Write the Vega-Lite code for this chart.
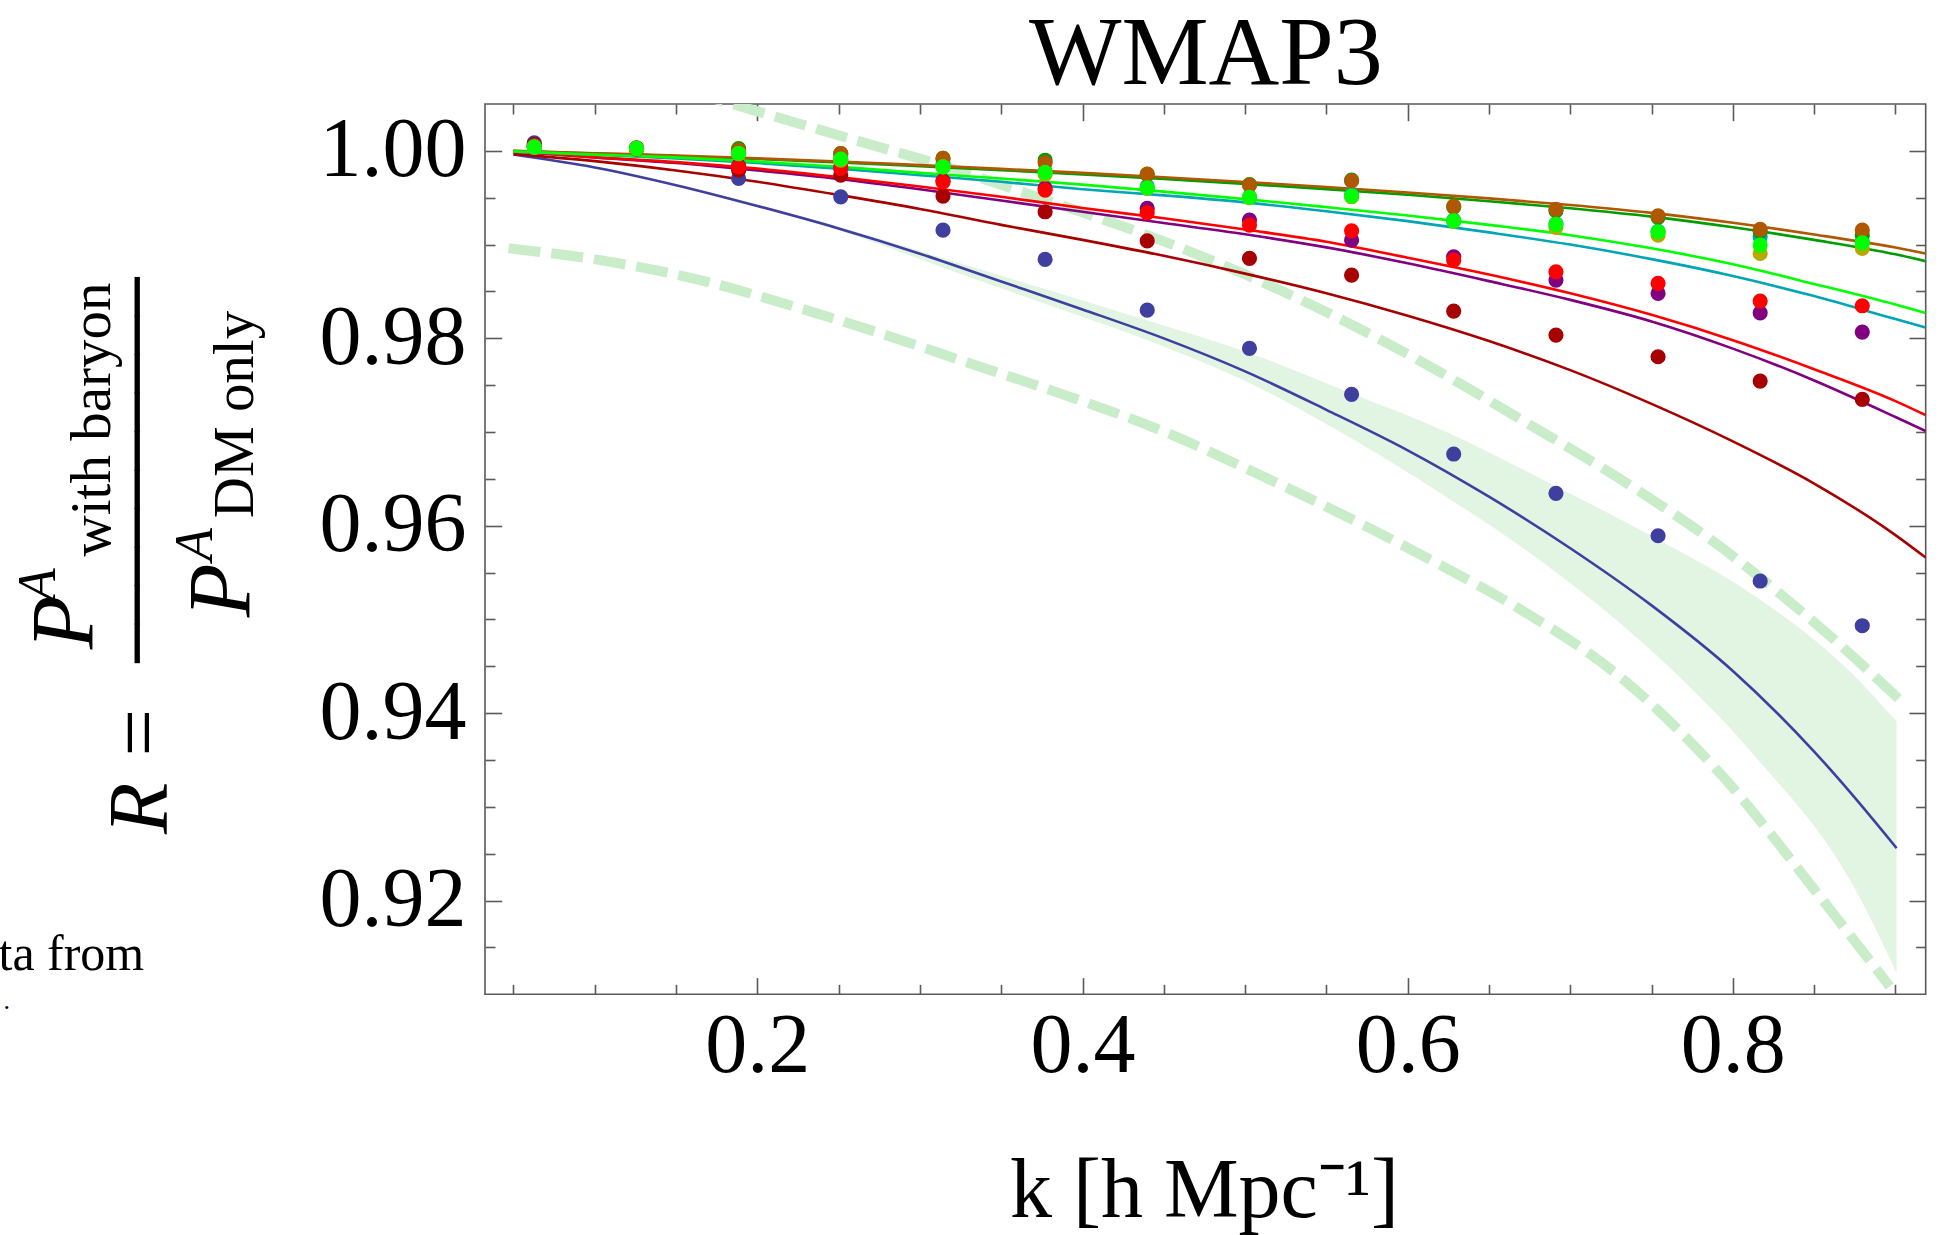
{
  "$schema": "https://vega.github.io/schema/vega-lite/v6.json",
  "autosize": {"type": "none"},
  "width": 1440.7,
  "height": 890.3,
  "padding": {"left": 485, "top": 104, "right": 24, "bottom": 241},
  "background": "#ffffff",
  "config": {
    "view": {"stroke": "#5a5a5a", "strokeWidth": 1.6},
    "axis": {"grid": false, "domain": false, "tickColor": "#5a5a5a", "tickWidth": 1.6, "labelFont": "Liberation Serif", "labelFontSize": 84, "labelColor": "#000000", "titleFont": "Liberation Serif", "titleFontWeight": "normal", "titleColor": "#000000", "labelLimit": 600, "titleLimit": 3000, "labelOverlap": false, "labelFlush": false}
  },
  "datasets": {
    "band": [
      {"k": 0.05, "lo": 0.9996, "hi": 0.9996},
      {"k": 0.15, "lo": 0.9963, "hi": 0.9964},
      {"k": 0.25, "lo": 0.9915, "hi": 0.9919},
      {"k": 0.3247, "lo": 0.9869, "hi": 0.988},
      {"k": 0.38, "lo": 0.9835, "hi": 0.9851},
      {"k": 0.44, "lo": 0.9798, "hi": 0.9819},
      {"k": 0.503, "lo": 0.9752, "hi": 0.9784},
      {"k": 0.5655, "lo": 0.9693, "hi": 0.9741},
      {"k": 0.62, "lo": 0.9635, "hi": 0.9703},
      {"k": 0.69, "lo": 0.9552, "hi": 0.9643},
      {"k": 0.751, "lo": 0.9465, "hi": 0.9588},
      {"k": 0.8126, "lo": 0.9356, "hi": 0.9526},
      {"k": 0.874, "lo": 0.9216, "hi": 0.9441},
      {"k": 0.9007, "lo": 0.9123, "hi": 0.9391}
    ],
    "dashU": [
      {"k": 0.16, "R": 1.0062}, {"k": 0.1766, "R": 1.0054}, {"k": 0.2237, "R": 1.003}, {"k": 0.2649, "R": 1.0009},
      {"k": 0.309, "R": 0.9987}, {"k": 0.3531, "R": 0.9962}, {"k": 0.3972, "R": 0.9936}, {"k": 0.4414, "R": 0.9909},
      {"k": 0.4989, "R": 0.9869}, {"k": 0.5604, "R": 0.9819}, {"k": 0.6199, "R": 0.9764}, {"k": 0.669, "R": 0.9714},
      {"k": 0.7305, "R": 0.965}, {"k": 0.792, "R": 0.9578}, {"k": 0.83, "R": 0.9526}, {"k": 0.86, "R": 0.9482},
      {"k": 0.9028, "R": 0.9414}
    ],
    "dashL": [
      {"k": 0.047, "R": 0.9896}, {"k": 0.1033, "R": 0.98834}, {"k": 0.1648, "R": 0.98621}, {"k": 0.2263, "R": 0.9832},
      {"k": 0.2877, "R": 0.97985}, {"k": 0.3247, "R": 0.97767}, {"k": 0.3862, "R": 0.97412}, {"k": 0.4477, "R": 0.97021},
      {"k": 0.5092, "R": 0.96541}, {"k": 0.5707, "R": 0.96026}, {"k": 0.6136, "R": 0.9564}, {"k": 0.669, "R": 0.9511},
      {"k": 0.7305, "R": 0.94389}, {"k": 0.792, "R": 0.93359}, {"k": 0.8535, "R": 0.92043}, {"k": 0.8965, "R": 0.91083}
    ],
    "linesA": [
      {"series": "blue", "k": 0.05, "R": 0.99961}, {"series": "blue", "k": 0.1, "R": 0.99823}, {"series": "blue", "k": 0.15, "R": 0.99634}, {"series": "blue", "k": 0.2, "R": 0.99412}, {"series": "blue", "k": 0.25, "R": 0.99172}, {"series": "blue", "k": 0.3, "R": 0.98903}, {"series": "blue", "k": 0.35, "R": 0.98606}, {"series": "blue", "k": 0.4, "R": 0.98308}, {"series": "blue", "k": 0.45, "R": 0.97999}, {"series": "blue", "k": 0.5, "R": 0.97647}, {"series": "blue", "k": 0.55, "R": 0.97237}, {"series": "blue", "k": 0.6, "R": 0.96805}, {"series": "blue", "k": 0.65, "R": 0.9631}, {"series": "blue", "k": 0.7, "R": 0.9576}, {"series": "blue", "k": 0.75, "R": 0.9515}, {"series": "blue", "k": 0.8, "R": 0.9445}, {"series": "blue", "k": 0.85, "R": 0.9359}, {"series": "blue", "k": 0.9, "R": 0.92574}, {"series": "blue", "k": 0.9007, "R": 0.92559},
      {"series": "darkred", "k": 0.05, "R": 0.99965}, {"series": "darkred", "k": 0.1, "R": 0.9989}, {"series": "darkred", "k": 0.15, "R": 0.9979}, {"series": "darkred", "k": 0.2, "R": 0.9967}, {"series": "darkred", "k": 0.25, "R": 0.9953}, {"series": "darkred", "k": 0.3, "R": 0.9938}, {"series": "darkred", "k": 0.35, "R": 0.9921}, {"series": "darkred", "k": 0.4, "R": 0.9905}, {"series": "darkred", "k": 0.45, "R": 0.9888}, {"series": "darkred", "k": 0.5, "R": 0.9869}, {"series": "darkred", "k": 0.55, "R": 0.9848}, {"series": "darkred", "k": 0.6, "R": 0.9824}, {"series": "darkred", "k": 0.65, "R": 0.9797}, {"series": "darkred", "k": 0.7, "R": 0.9766}, {"series": "darkred", "k": 0.75, "R": 0.973}, {"series": "darkred", "k": 0.8, "R": 0.969}, {"series": "darkred", "k": 0.85, "R": 0.9645}, {"series": "darkred", "k": 0.9, "R": 0.959}, {"series": "darkred", "k": 0.9186, "R": 0.9566},
      {"series": "purple", "k": 0.05, "R": 0.99995}, {"series": "purple", "k": 0.1, "R": 0.9993}, {"series": "purple", "k": 0.15, "R": 0.9987}, {"series": "purple", "k": 0.2, "R": 0.9979}, {"series": "purple", "k": 0.25, "R": 0.997}, {"series": "purple", "k": 0.3, "R": 0.9959}, {"series": "purple", "k": 0.35, "R": 0.9947}, {"series": "purple", "k": 0.4, "R": 0.9935}, {"series": "purple", "k": 0.45, "R": 0.9923}, {"series": "purple", "k": 0.5, "R": 0.9911}, {"series": "purple", "k": 0.55, "R": 0.9897}, {"series": "purple", "k": 0.6, "R": 0.988}, {"series": "purple", "k": 0.65, "R": 0.9861}, {"series": "purple", "k": 0.7, "R": 0.9841}, {"series": "purple", "k": 0.75, "R": 0.9818}, {"series": "purple", "k": 0.8, "R": 0.9789}, {"series": "purple", "k": 0.85, "R": 0.9755}, {"series": "purple", "k": 0.9, "R": 0.9716}, {"series": "purple", "k": 0.9186, "R": 0.9701},
      {"series": "red", "k": 0.05, "R": 0.99995}, {"series": "red", "k": 0.1, "R": 0.9993}, {"series": "red", "k": 0.15, "R": 0.9988}, {"series": "red", "k": 0.2, "R": 0.9981}, {"series": "red", "k": 0.25, "R": 0.9972}, {"series": "red", "k": 0.3, "R": 0.9962}, {"series": "red", "k": 0.35, "R": 0.9951}, {"series": "red", "k": 0.4, "R": 0.9939}, {"series": "red", "k": 0.45, "R": 0.9928}, {"series": "red", "k": 0.5, "R": 0.9916}, {"series": "red", "k": 0.55, "R": 0.9903}, {"series": "red", "k": 0.6, "R": 0.9886}, {"series": "red", "k": 0.65, "R": 0.9868}, {"series": "red", "k": 0.7, "R": 0.9848}, {"series": "red", "k": 0.75, "R": 0.9825}, {"series": "red", "k": 0.8, "R": 0.9798}, {"series": "red", "k": 0.85, "R": 0.9767}, {"series": "red", "k": 0.9, "R": 0.9733}, {"series": "red", "k": 0.9186, "R": 0.9718}
    ],
    "linesB": [
      {"series": "teal", "k": 0.05, "R": 0.99995}, {"series": "teal", "k": 0.1, "R": 0.9996}, {"series": "teal", "k": 0.15, "R": 0.9992}, {"series": "teal", "k": 0.2, "R": 0.9987}, {"series": "teal", "k": 0.25, "R": 0.9981}, {"series": "teal", "k": 0.3, "R": 0.9974}, {"series": "teal", "k": 0.35, "R": 0.9967}, {"series": "teal", "k": 0.4, "R": 0.9959}, {"series": "teal", "k": 0.45, "R": 0.99525}, {"series": "teal", "k": 0.5, "R": 0.9945}, {"series": "teal", "k": 0.55, "R": 0.99355}, {"series": "teal", "k": 0.6, "R": 0.9925}, {"series": "teal", "k": 0.65, "R": 0.9913}, {"series": "teal", "k": 0.7, "R": 0.99}, {"series": "teal", "k": 0.75, "R": 0.98845}, {"series": "teal", "k": 0.8, "R": 0.98665}, {"series": "teal", "k": 0.85, "R": 0.9845}, {"series": "teal", "k": 0.9, "R": 0.98205}, {"series": "teal", "k": 0.9186, "R": 0.98116},
      {"series": "darkgreen", "k": 0.05, "R": 1.0}, {"series": "darkgreen", "k": 0.1, "R": 0.99972}, {"series": "darkgreen", "k": 0.15, "R": 0.99945}, {"series": "darkgreen", "k": 0.2, "R": 0.99913}, {"series": "darkgreen", "k": 0.25, "R": 0.99877}, {"series": "darkgreen", "k": 0.3, "R": 0.99836}, {"series": "darkgreen", "k": 0.35, "R": 0.99794}, {"series": "darkgreen", "k": 0.4, "R": 0.99749}, {"series": "darkgreen", "k": 0.45, "R": 0.997}, {"series": "darkgreen", "k": 0.5, "R": 0.99648}, {"series": "darkgreen", "k": 0.55, "R": 0.99592}, {"series": "darkgreen", "k": 0.6, "R": 0.99531}, {"series": "darkgreen", "k": 0.65, "R": 0.99463}, {"series": "darkgreen", "k": 0.7, "R": 0.99387}, {"series": "darkgreen", "k": 0.75, "R": 0.99298}, {"series": "darkgreen", "k": 0.8, "R": 0.99184}, {"series": "darkgreen", "k": 0.85, "R": 0.9905}, {"series": "darkgreen", "k": 0.9, "R": 0.98896}, {"series": "darkgreen", "k": 0.9186, "R": 0.98823},
      {"series": "brown", "k": 0.05, "R": 1.0}, {"series": "brown", "k": 0.1, "R": 0.99975}, {"series": "brown", "k": 0.15, "R": 0.9995}, {"series": "brown", "k": 0.2, "R": 0.9992}, {"series": "brown", "k": 0.25, "R": 0.99887}, {"series": "brown", "k": 0.3, "R": 0.99848}, {"series": "brown", "k": 0.35, "R": 0.99808}, {"series": "brown", "k": 0.4, "R": 0.99765}, {"series": "brown", "k": 0.45, "R": 0.99718}, {"series": "brown", "k": 0.5, "R": 0.99668}, {"series": "brown", "k": 0.55, "R": 0.99614}, {"series": "brown", "k": 0.6, "R": 0.99556}, {"series": "brown", "k": 0.65, "R": 0.99493}, {"series": "brown", "k": 0.7, "R": 0.99422}, {"series": "brown", "k": 0.75, "R": 0.99338}, {"series": "brown", "k": 0.8, "R": 0.99232}, {"series": "brown", "k": 0.85, "R": 0.99108}, {"series": "brown", "k": 0.9, "R": 0.98968}, {"series": "brown", "k": 0.9186, "R": 0.98905},
      {"series": "green", "k": 0.05, "R": 0.99995}, {"series": "green", "k": 0.1, "R": 0.9996}, {"series": "green", "k": 0.15, "R": 0.9993}, {"series": "green", "k": 0.2, "R": 0.99885}, {"series": "green", "k": 0.25, "R": 0.9983}, {"series": "green", "k": 0.3, "R": 0.99765}, {"series": "green", "k": 0.35, "R": 0.99705}, {"series": "green", "k": 0.4, "R": 0.9964}, {"series": "green", "k": 0.45, "R": 0.99565}, {"series": "green", "k": 0.5, "R": 0.99485}, {"series": "green", "k": 0.55, "R": 0.994}, {"series": "green", "k": 0.6, "R": 0.9931}, {"series": "green", "k": 0.65, "R": 0.9921}, {"series": "green", "k": 0.7, "R": 0.991}, {"series": "green", "k": 0.75, "R": 0.9896}, {"series": "green", "k": 0.8, "R": 0.9879}, {"series": "green", "k": 0.85, "R": 0.9858}, {"series": "green", "k": 0.9, "R": 0.9836}, {"series": "green", "k": 0.9186, "R": 0.9827}
    ],
    "pointsA": [
      {"series": "blue", "k": 0.0628, "R": 1.00085}, {"series": "blue", "k": 0.1257, "R": 1.0003}, {"series": "blue", "k": 0.1885, "R": 0.99706}, {"series": "blue", "k": 0.2513, "R": 0.99509}, {"series": "blue", "k": 0.3142, "R": 0.99154}, {"series": "blue", "k": 0.377, "R": 0.98842}, {"series": "blue", "k": 0.4398, "R": 0.983}, {"series": "blue", "k": 0.5027, "R": 0.97892}, {"series": "blue", "k": 0.5655, "R": 0.97402}, {"series": "blue", "k": 0.6283, "R": 0.96765}, {"series": "blue", "k": 0.6912, "R": 0.96346}, {"series": "blue", "k": 0.754, "R": 0.95893}, {"series": "blue", "k": 0.8168, "R": 0.9541}, {"series": "blue", "k": 0.8796, "R": 0.94933},
      {"series": "darkred", "k": 0.0628, "R": 1.0007}, {"series": "darkred", "k": 0.1257, "R": 1.0002}, {"series": "darkred", "k": 0.1885, "R": 0.99794}, {"series": "darkred", "k": 0.2513, "R": 0.99741}, {"series": "darkred", "k": 0.3142, "R": 0.99517}, {"series": "darkred", "k": 0.377, "R": 0.9935}, {"series": "darkred", "k": 0.4398, "R": 0.9904}, {"series": "darkred", "k": 0.5027, "R": 0.98852}, {"series": "darkred", "k": 0.5655, "R": 0.98674}, {"series": "darkred", "k": 0.6283, "R": 0.9829}, {"series": "darkred", "k": 0.6912, "R": 0.98034}, {"series": "darkred", "k": 0.754, "R": 0.97803}, {"series": "darkred", "k": 0.8168, "R": 0.97543}, {"series": "darkred", "k": 0.8796, "R": 0.97348},
      {"series": "purple", "k": 0.0628, "R": 1.0006}, {"series": "purple", "k": 0.1257, "R": 1.0002}, {"series": "purple", "k": 0.1885, "R": 0.9984}, {"series": "purple", "k": 0.2513, "R": 0.9982}, {"series": "purple", "k": 0.3142, "R": 0.9968}, {"series": "purple", "k": 0.377, "R": 0.996}, {"series": "purple", "k": 0.4398, "R": 0.99386}, {"series": "purple", "k": 0.5027, "R": 0.99261}, {"series": "purple", "k": 0.5655, "R": 0.99047}, {"series": "purple", "k": 0.6283, "R": 0.98869}, {"series": "purple", "k": 0.6912, "R": 0.98621}, {"series": "purple", "k": 0.754, "R": 0.98479}, {"series": "purple", "k": 0.8168, "R": 0.98272}, {"series": "purple", "k": 0.8796, "R": 0.98066},
      {"series": "red", "k": 0.0628, "R": 1.0005}, {"series": "red", "k": 0.1257, "R": 1.0002}, {"series": "red", "k": 0.1885, "R": 0.99829}, {"series": "red", "k": 0.2513, "R": 0.99812}, {"series": "red", "k": 0.3142, "R": 0.99669}, {"series": "red", "k": 0.377, "R": 0.99581}, {"series": "red", "k": 0.4398, "R": 0.99339}, {"series": "red", "k": 0.5027, "R": 0.99207}, {"series": "red", "k": 0.5655, "R": 0.99147}, {"series": "red", "k": 0.6283, "R": 0.98834}, {"series": "red", "k": 0.6912, "R": 0.98709}, {"series": "red", "k": 0.754, "R": 0.98586}, {"series": "red", "k": 0.8168, "R": 0.98397}, {"series": "red", "k": 0.8796, "R": 0.98347}
    ],
    "pointsB": [
      {"series": "teal", "k": 0.0628, "R": 1.0004}, {"series": "teal", "k": 0.1257, "R": 1.0003}, {"series": "teal", "k": 0.1885, "R": 0.9997}, {"series": "teal", "k": 0.2513, "R": 0.9991}, {"series": "teal", "k": 0.3142, "R": 0.99866}, {"series": "teal", "k": 0.377, "R": 0.9978}, {"series": "teal", "k": 0.4398, "R": 0.9962}, {"series": "teal", "k": 0.5027, "R": 0.9951}, {"series": "teal", "k": 0.5655, "R": 0.9953}, {"series": "teal", "k": 0.6283, "R": 0.9926}, {"series": "teal", "k": 0.6912, "R": 0.9922}, {"series": "teal", "k": 0.754, "R": 0.9914}, {"series": "teal", "k": 0.8168, "R": 0.99083}, {"series": "teal", "k": 0.8796, "R": 0.9903},
      {"series": "darkgreen", "k": 0.0628, "R": 1.0005}, {"series": "darkgreen", "k": 0.1257, "R": 1.0003}, {"series": "darkgreen", "k": 0.1885, "R": 1.00025}, {"series": "darkgreen", "k": 0.2513, "R": 0.9997}, {"series": "darkgreen", "k": 0.3142, "R": 0.9992}, {"series": "darkgreen", "k": 0.377, "R": 0.999}, {"series": "darkgreen", "k": 0.4398, "R": 0.9975}, {"series": "darkgreen", "k": 0.5027, "R": 0.9964}, {"series": "darkgreen", "k": 0.5655, "R": 0.99688}, {"series": "darkgreen", "k": 0.6283, "R": 0.994}, {"series": "darkgreen", "k": 0.6912, "R": 0.9936}, {"series": "darkgreen", "k": 0.754, "R": 0.9929}, {"series": "darkgreen", "k": 0.8168, "R": 0.9914}, {"series": "darkgreen", "k": 0.8796, "R": 0.991},
      {"series": "brown", "k": 0.0628, "R": 1.0005}, {"series": "brown", "k": 0.1257, "R": 1.0003}, {"series": "brown", "k": 0.1885, "R": 1.00007}, {"series": "brown", "k": 0.2513, "R": 0.99972}, {"series": "brown", "k": 0.3142, "R": 0.99919}, {"series": "brown", "k": 0.377, "R": 0.99872}, {"series": "brown", "k": 0.4398, "R": 0.99751}, {"series": "brown", "k": 0.5027, "R": 0.99634}, {"series": "brown", "k": 0.5655, "R": 0.9968}, {"series": "brown", "k": 0.6283, "R": 0.9941}, {"series": "brown", "k": 0.6912, "R": 0.99375}, {"series": "brown", "k": 0.754, "R": 0.99307}, {"series": "brown", "k": 0.8168, "R": 0.99162}, {"series": "brown", "k": 0.8796, "R": 0.99154},
      {"series": "olive", "k": 0.0628, "R": 1.0004}, {"series": "olive", "k": 0.1257, "R": 1.0002}, {"series": "olive", "k": 0.1885, "R": 0.9997}, {"series": "olive", "k": 0.2513, "R": 0.999}, {"series": "olive", "k": 0.3142, "R": 0.9983}, {"series": "olive", "k": 0.377, "R": 0.9975}, {"series": "olive", "k": 0.4398, "R": 0.996}, {"series": "olive", "k": 0.5027, "R": 0.995}, {"series": "olive", "k": 0.5655, "R": 0.9951}, {"series": "olive", "k": 0.6283, "R": 0.9925}, {"series": "olive", "k": 0.6912, "R": 0.99183}, {"series": "olive", "k": 0.754, "R": 0.991}, {"series": "olive", "k": 0.8168, "R": 0.98905}, {"series": "olive", "k": 0.8796, "R": 0.98959},
      {"series": "green", "k": 0.0628, "R": 1.0004}, {"series": "green", "k": 0.1257, "R": 1.00026}, {"series": "green", "k": 0.1885, "R": 0.99972}, {"series": "green", "k": 0.2513, "R": 0.99911}, {"series": "green", "k": 0.3142, "R": 0.99829}, {"series": "green", "k": 0.377, "R": 0.9977}, {"series": "green", "k": 0.4398, "R": 0.99605}, {"series": "green", "k": 0.5027, "R": 0.99503}, {"series": "green", "k": 0.5655, "R": 0.99517}, {"series": "green", "k": 0.6283, "R": 0.99253}, {"series": "green", "k": 0.6912, "R": 0.99215}, {"series": "green", "k": 0.754, "R": 0.99136}, {"series": "green", "k": 0.8168, "R": 0.98994}, {"series": "green", "k": 0.8796, "R": 0.99019}
    ]
  },
  "resolve": {"axis": {"x": "independent", "y": "independent"}},
  "layer": [
    {
      "data": {"name": "band"},
      "mark": {"type": "area", "color": "#e2f4e2", "opacity": 1, "interpolate": "monotone", "clip": true},
      "encoding": {
        "x": {"field": "k", "type": "quantitative", "scale": {"domain": [0.0325, 0.9186], "nice": false, "zero": false},
          "axis": {"orient": "bottom", "values": [0.2, 0.4, 0.6, 0.8], "format": ".1f", "tickSize": -16.7, "labelBaseline": "alphabetic", "labelPadding": 94.4,
            "title": "k [h Mpc⁻¹]", "titleFontSize": 84, "titleX": 719, "titleY": 222, "titleAlign": "center", "titleBaseline": "alphabetic", "titleAngle": 0}},
        "y": {"field": "lo", "type": "quantitative", "scale": {"domain": [0.91, 1.005], "nice": false, "zero": false},
          "axis": {"orient": "left", "values": [0.92, 0.94, 0.96, 0.98, 1.0], "format": ".2f", "tickSize": -16.7, "labelAlign": "right", "labelBaseline": "middle", "labelPadding": 35.7,
            "title": "R =", "titleFontSize": 84, "titleFontStyle": "italic", "titleX": -318, "titleY": 665, "titleAngle": 270, "titleAlign": "center", "titleBaseline": "alphabetic"}},
        "y2": {"field": "hi"}
      }
    },
    {
      "data": {"name": "dashU"},
      "mark": {"type": "line", "color": "#c9ecc9", "strokeWidth": 10, "strokeDash": [32, 11], "strokeCap": "butt", "interpolate": "monotone", "clip": true},
      "encoding": {
        "x": {"field": "k", "type": "quantitative", "scale": {"domain": [0.0325, 0.9186], "nice": false, "zero": false},
          "axis": {"orient": "bottom", "values": [0.05, 0.1, 0.15, 0.25, 0.3, 0.35, 0.45, 0.5, 0.55, 0.65, 0.7, 0.75, 0.85, 0.9], "tickSize": -10, "labels": false,
            "title": "A", "titleFontSize": 54, "titleFontStyle": "italic", "titleX": -430, "titleY": -410, "titleAngle": 270, "titleAlign": "center", "titleBaseline": "alphabetic"}},
        "y": {"field": "R", "type": "quantitative", "scale": {"domain": [0.91, 1.005], "nice": false, "zero": false},
          "axis": {"orient": "left", "values": [0.915, 0.925, 0.93, 0.935, 0.945, 0.95, 0.955, 0.965, 0.97, 0.975, 0.985, 0.99, 0.995], "tickSize": -10, "labels": false,
            "title": "P", "titleFontSize": 88, "titleFontStyle": "italic", "titleX": -393, "titleY": 518, "titleAngle": 270, "titleAlign": "center", "titleBaseline": "alphabetic"}}
      }
    },
    {
      "data": {"name": "dashL"},
      "mark": {"type": "line", "color": "#c9ecc9", "strokeWidth": 10, "strokeDash": [32, 11], "strokeCap": "butt", "interpolate": "monotone", "clip": true},
      "encoding": {
        "x": {"field": "k", "type": "quantitative", "scale": {"domain": [0.0325, 0.9186], "nice": false, "zero": false},
          "axis": {"orient": "top", "values": [0.2, 0.4, 0.6, 0.8], "tickSize": -16.7, "labels": false,
            "title": "WMAP3", "titleFontSize": 98, "titleX": 720.35, "titleY": -21, "titleAlign": "center", "titleBaseline": "alphabetic", "titleAngle": 0}},
        "y": {"field": "R", "type": "quantitative", "scale": {"domain": [0.91, 1.005], "nice": false, "zero": false},
          "axis": {"orient": "right", "values": [0.92, 0.94, 0.96, 0.98, 1.0], "tickSize": -16.7, "labels": false,
            "title": "P", "titleFontSize": 88, "titleFontStyle": "italic", "titleX": -1677, "titleY": 486, "titleAngle": 270, "titleAlign": "center", "titleBaseline": "alphabetic"}}
      }
    },
    {
      "data": {"name": "linesA"},
      "mark": {"type": "line", "strokeWidth": 2.6, "interpolate": "monotone", "clip": true},
      "encoding": {
        "x": {"field": "k", "type": "quantitative", "scale": {"domain": [0.0325, 0.9186], "nice": false, "zero": false},
          "axis": {"orient": "top", "values": [0.05, 0.1, 0.15, 0.25, 0.3, 0.35, 0.45, 0.5, 0.55, 0.65, 0.7, 0.75, 0.85, 0.9], "tickSize": -10, "labels": false, "title": null}},
        "y": {"field": "R", "type": "quantitative", "scale": {"domain": [0.91, 1.005], "nice": false, "zero": false},
          "axis": {"orient": "right", "values": [0.915, 0.925, 0.93, 0.935, 0.945, 0.95, 0.955, 0.965, 0.97, 0.975, 0.985, 0.99, 0.995], "tickSize": -10, "labels": false,
            "title": "A", "titleFontSize": 54, "titleFontStyle": "italic", "titleX": -1713.7, "titleY": 440, "titleAngle": 270, "titleAlign": "center", "titleBaseline": "alphabetic"}},
        "color": {"field": "series", "type": "nominal", "legend": null,
          "scale": {"domain": ["blue", "darkred", "purple", "red", "teal", "darkgreen", "brown", "olive", "green"], "range": ["#3f3f9f", "#a60000", "#800080", "#ff0000", "#00a6b4", "#009c00", "#b05800", "#b4aa00", "#00ff00"]}}
      }
    },
    {
      "data": {"name": "linesB"},
      "mark": {"type": "line", "strokeWidth": 2.6, "interpolate": "monotone", "clip": true},
      "encoding": {
        "x": {"field": "k", "type": "quantitative", "scale": {"domain": [0.0325, 0.9186], "nice": false, "zero": false},
          "axis": {"orient": "bottom", "ticks": false, "labels": false,
            "title": "ta from", "titleFontSize": 50, "titleX": -487, "titleY": -24.3, "titleAngle": 0, "titleAlign": "left", "titleBaseline": "alphabetic"}},
        "y": {"field": "R", "type": "quantitative", "scale": {"domain": [0.91, 1.005], "nice": false, "zero": false},
          "axis": {"orient": "left", "ticks": false, "labels": false,
            "title": "──────────", "titleFont": "DejaVu Sans Mono", "titleFontSize": 64, "titleX": -345, "titleY": 365.5, "titleAngle": 270, "titleAlign": "center", "titleBaseline": "middle"}},
        "color": {"field": "series", "type": "nominal", "legend": null}
      }
    },
    {
      "data": {"name": "pointsA"},
      "mark": {"type": "point", "filled": true, "size": 230, "opacity": 1, "strokeWidth": 0},
      "encoding": {
        "x": {"field": "k", "type": "quantitative", "scale": {"domain": [0.0325, 0.9186], "nice": false, "zero": false},
          "axis": {"orient": "bottom", "ticks": false, "labels": false,
            "title": ".", "titleFontSize": 26, "titleX": -482, "titleY": 14, "titleAngle": 0, "titleAlign": "left", "titleBaseline": "alphabetic"}},
        "y": {"field": "R", "type": "quantitative", "scale": {"domain": [0.91, 1.005], "nice": false, "zero": false},
          "axis": {"orient": "left", "ticks": false, "labels": false,
            "title": "with baryon", "titleFontSize": 57, "titleX": -375, "titleY": 315, "titleAngle": 270, "titleAlign": "center", "titleBaseline": "alphabetic"}},
        "color": {"field": "series", "type": "nominal", "legend": null}
      }
    },
    {
      "data": {"name": "pointsB"},
      "mark": {"type": "point", "filled": true, "size": 230, "opacity": 1, "strokeWidth": 0},
      "encoding": {
        "x": {"field": "k", "type": "quantitative", "scale": {"domain": [0.0325, 0.9186], "nice": false, "zero": false}, "axis": null},
        "y": {"field": "R", "type": "quantitative", "scale": {"domain": [0.91, 1.005], "nice": false, "zero": false},
          "axis": {"orient": "left", "ticks": false, "labels": false,
            "title": "DM only", "titleFontSize": 57, "titleX": -232, "titleY": 310, "titleAngle": 270, "titleAlign": "center", "titleBaseline": "alphabetic"}},
        "color": {"field": "series", "type": "nominal", "legend": null}
      }
    }
  ]
}
